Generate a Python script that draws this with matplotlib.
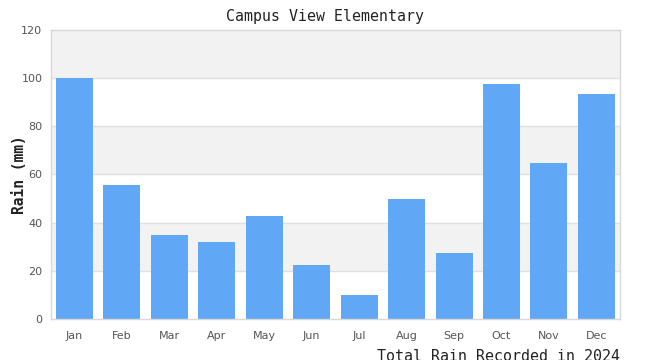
import matplotlib

matplotlib.use("Agg")
import matplotlib.pyplot as plt

months = ["Jan", "Feb", "Mar", "Apr", "May", "Jun",
          "Jul", "Aug", "Sep", "Oct", "Nov", "Dec"]
rain_mm = [100, 55.6, 35, 32, 42.8, 22.4, 10, 49.8, 27.4, 97.6, 64.8, 93.4]
y_ticks = [0, 20, 40, 60, 80, 100, 120]

fig = plt.figure(figsize=(6.5, 3.6), dpi=100)
ax = fig.add_axes([0.078, 0.114, 0.876, 0.803])

# alternating horizontal bands
for i, lo in enumerate(y_ticks[:-1]):
    if i % 2 == 1:
        ax.axhspan(lo, y_ticks[i + 1], color="#f2f2f2", zorder=0, lw=0)
for t in y_ticks[1:-1]:
    ax.axhline(t, color="#e0e0e0", lw=1, zorder=1)

ax.bar(range(len(months)), rain_mm, width=0.78, color="#60a8f5", zorder=2)

ax.set_xlim(-0.5, len(months) - 0.5)
ax.set_ylim(0, 120)
ax.set_yticks(y_ticks)
ax.set_xticks(range(len(months)))
ax.set_xticklabels(months)
ax.tick_params(length=0, labelsize=8, colors="#555555", pad=6)
ax.tick_params(axis="x", pad=9)
for s in ax.spines.values():
    s.set_color("#d8d8d8")
    s.set_linewidth(1)

mono = "DejaVu Sans Mono"
ax.set_ylabel("Rain (mm)", family=mono, fontsize=10.5, fontweight="bold",
              color="#222222")
ax.yaxis.set_label_coords(-0.041, 0.5)
fig.text(0.5, 0.975, "Campus View Elementary", family=mono, fontsize=10.7,
         color="#222222", ha="center", va="top")
# footer sits low, partly clipped by the bottom edge as in the source
fig.text(0.954, 0.03, "Total Rain Recorded in 2024", family=mono, fontsize=10.85,
         color="#222222", ha="right", va="top")

fig.savefig("out.png", dpi=100)
